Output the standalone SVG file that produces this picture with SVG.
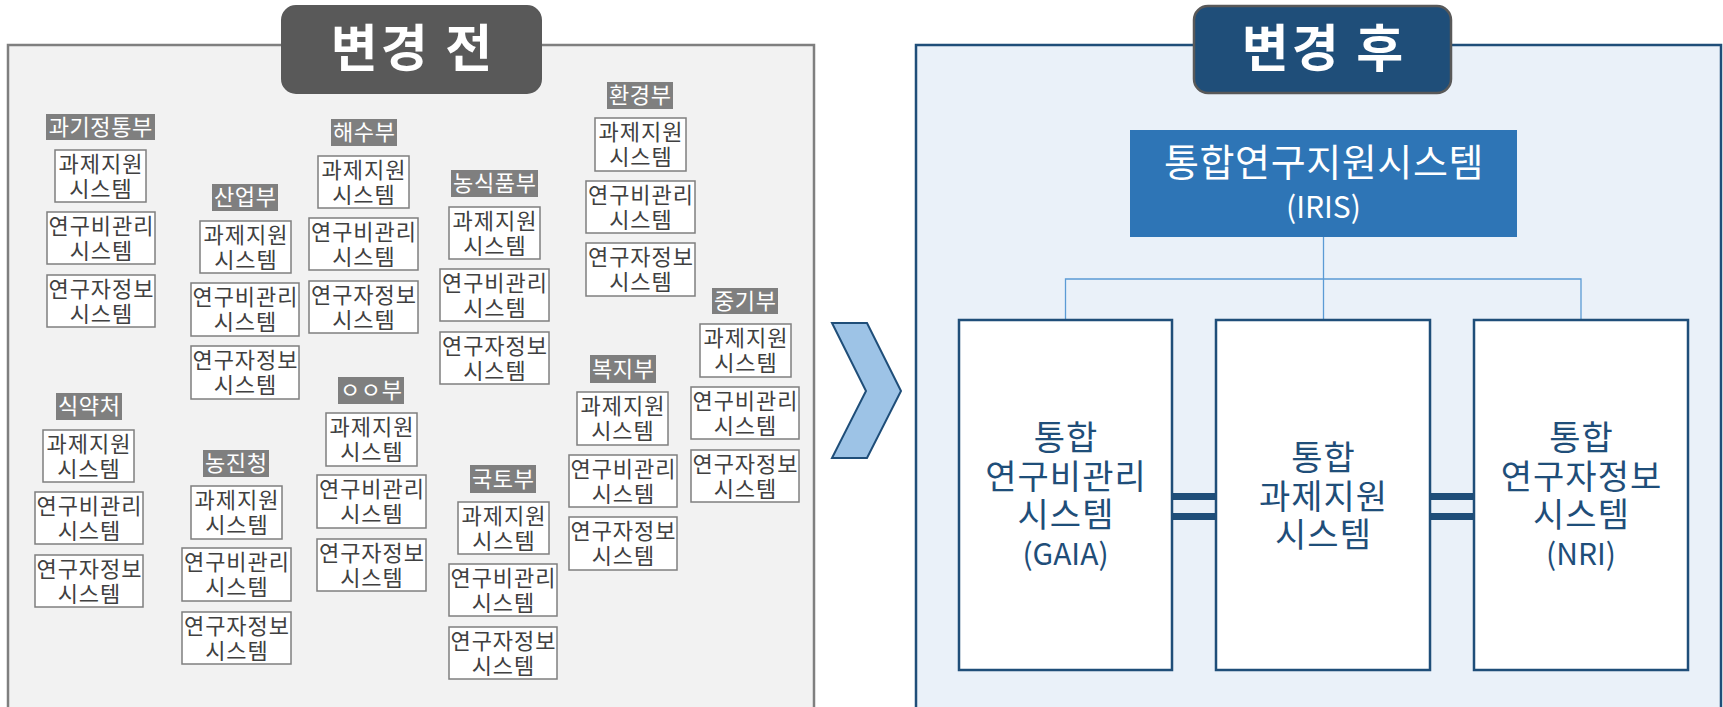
<svg xmlns="http://www.w3.org/2000/svg" width="1723" height="707" viewBox="0 0 1723 707">
<style>
.kr{font-family:"Noto Sans CJK KR","Noto Sans",sans-serif}
.lbl rect{fill:#7f7f7f}
.lbl text{fill:#ffffff;font-size:22px;letter-spacing:0.6px;text-anchor:middle}
.sys rect{fill:#ffffff;stroke:#7f7f7f;stroke-width:1.5}
.sys text{fill:#404040;font-size:22px;letter-spacing:1px;text-anchor:middle}
.big rect{fill:#ffffff;stroke:#1f4e79;stroke-width:2.5}
.big text{fill:#1f4e79;font-size:34px;letter-spacing:1px;text-anchor:middle}
.big tspan.en{font-size:30px;letter-spacing:0}
.badge text{fill:#ffffff;font-size:51px;font-weight:bold;letter-spacing:3px;text-anchor:middle}
</style>
<rect width="1723" height="707" fill="#ffffff"/>
<g id="panel-before">
<rect x="8" y="45" width="806" height="700" fill="#f2f2f2" stroke="#7f7f7f" stroke-width="2.5"/>
</g>
<g id="panel-after">
<rect x="916" y="45" width="805" height="700" fill="#eaf1f9" stroke="#1f4e79" stroke-width="2.5"/>
</g>
<g id="badge-before" class="badge kr">
<rect x="282" y="6" width="259" height="87" rx="14" fill="#595959" stroke="#595959" stroke-width="2"/>
<text x="413" y="67">변경 전</text>
</g>
<g id="badge-after" class="badge kr">
<rect x="1194" y="6" width="257" height="87" rx="14" fill="#1f4e79" stroke="#595959" stroke-width="2.5"/>
<text x="1324" y="67">변경 후</text>
</g>
<g id="chevron">
<polygon points="832,323 867,323 901,391 867,458 832,458 866,391" fill="#9dc3e6" stroke="#1f4e79" stroke-width="2"/>
</g>

<g id="g-msit" class="kr">
<g class="lbl"><rect x="46" y="114" width="109" height="26"/><text x="100.8" y="135">과기정통부</text></g>
<g class="sys"><rect x="55" y="150" width="91" height="52"/><text><tspan x="101" y="171.5">과제지원</tspan><tspan x="101" y="196.5">시스템</tspan></text></g>
<g class="sys"><rect x="47" y="212" width="108" height="52"/><text><tspan x="101.5" y="233.5">연구비관리</tspan><tspan x="101.5" y="258.5">시스템</tspan></text></g>
<g class="sys"><rect x="47" y="275" width="108" height="52"/><text><tspan x="101.5" y="296.5">연구자정보</tspan><tspan x="101.5" y="321.5">시스템</tspan></text></g>
</g>
<g id="g-motie" class="kr">
<g class="lbl"><rect x="212" y="184" width="66" height="27"/><text x="245.3" y="205">산업부</text></g>
<g class="sys"><rect x="200" y="221" width="91" height="52"/><text><tspan x="246" y="242.5">과제지원</tspan><tspan x="246" y="267.5">시스템</tspan></text></g>
<g class="sys"><rect x="191" y="283" width="108" height="53"/><text><tspan x="245.5" y="304.5">연구비관리</tspan><tspan x="245.5" y="329.5">시스템</tspan></text></g>
<g class="sys"><rect x="191" y="346" width="108" height="53"/><text><tspan x="245.5" y="367.5">연구자정보</tspan><tspan x="245.5" y="392.5">시스템</tspan></text></g>
</g>
<g id="g-mof" class="kr">
<g class="lbl"><rect x="331" y="119" width="66" height="27"/><text x="364.3" y="140">해수부</text></g>
<g class="sys"><rect x="318" y="156" width="91" height="52"/><text><tspan x="364" y="177.5">과제지원</tspan><tspan x="364" y="202.5">시스템</tspan></text></g>
<g class="sys"><rect x="309" y="218" width="109" height="52"/><text><tspan x="364" y="239.5">연구비관리</tspan><tspan x="364" y="264.5">시스템</tspan></text></g>
<g class="sys"><rect x="309" y="281" width="109" height="52"/><text><tspan x="364" y="302.5">연구자정보</tspan><tspan x="364" y="327.5">시스템</tspan></text></g>
</g>
<g id="g-mafra" class="kr">
<g class="lbl"><rect x="451" y="170" width="87" height="27"/><text x="494.8" y="191">농식품부</text></g>
<g class="sys"><rect x="449" y="207" width="91" height="52"/><text><tspan x="495" y="228.5">과제지원</tspan><tspan x="495" y="253.5">시스템</tspan></text></g>
<g class="sys"><rect x="440" y="269" width="109" height="52"/><text><tspan x="495" y="290.5">연구비관리</tspan><tspan x="495" y="315.5">시스템</tspan></text></g>
<g class="sys"><rect x="440" y="332" width="109" height="52"/><text><tspan x="495" y="353.5">연구자정보</tspan><tspan x="495" y="378.5">시스템</tspan></text></g>
</g>
<g id="g-me" class="kr">
<g class="lbl"><rect x="607" y="82" width="66" height="27"/><text x="640.3" y="103">환경부</text></g>
<g class="sys"><rect x="595" y="118" width="91" height="53"/><text><tspan x="641" y="139.5">과제지원</tspan><tspan x="641" y="164.5">시스템</tspan></text></g>
<g class="sys"><rect x="586" y="181" width="109" height="52"/><text><tspan x="641" y="202.5">연구비관리</tspan><tspan x="641" y="227.5">시스템</tspan></text></g>
<g class="sys"><rect x="586" y="243" width="109" height="53"/><text><tspan x="641" y="264.5">연구자정보</tspan><tspan x="641" y="289.5">시스템</tspan></text></g>
</g>
<g id="g-mss" class="kr">
<g class="lbl"><rect x="712" y="288" width="66" height="26"/><text x="745.3" y="308.5">중기부</text></g>
<g class="sys"><rect x="700" y="324" width="91" height="53"/><text><tspan x="746" y="345.5">과제지원</tspan><tspan x="746" y="370.5">시스템</tspan></text></g>
<g class="sys"><rect x="691" y="387" width="108" height="52"/><text><tspan x="745.5" y="408.5">연구비관리</tspan><tspan x="745.5" y="433.5">시스템</tspan></text></g>
<g class="sys"><rect x="691" y="450" width="108" height="52"/><text><tspan x="745.5" y="471.5">연구자정보</tspan><tspan x="745.5" y="496.5">시스템</tspan></text></g>
</g>
<g id="g-mfds" class="kr">
<g class="lbl"><rect x="56" y="393" width="66" height="27"/><text x="89.3" y="414">식약처</text></g>
<g class="sys"><rect x="43" y="430" width="91" height="52"/><text><tspan x="89" y="451.5">과제지원</tspan><tspan x="89" y="476.5">시스템</tspan></text></g>
<g class="sys"><rect x="35" y="492" width="108" height="52"/><text><tspan x="89.5" y="513.5">연구비관리</tspan><tspan x="89.5" y="538.5">시스템</tspan></text></g>
<g class="sys"><rect x="35" y="555" width="108" height="52"/><text><tspan x="89.5" y="576.5">연구자정보</tspan><tspan x="89.5" y="601.5">시스템</tspan></text></g>
</g>
<g id="g-rda" class="kr">
<g class="lbl"><rect x="203" y="450" width="66" height="27"/><text x="236.3" y="471">농진청</text></g>
<g class="sys"><rect x="191" y="486" width="91" height="53"/><text><tspan x="237" y="507.5">과제지원</tspan><tspan x="237" y="532.5">시스템</tspan></text></g>
<g class="sys"><rect x="182" y="548" width="109" height="53"/><text><tspan x="237" y="569.5">연구비관리</tspan><tspan x="237" y="594.5">시스템</tspan></text></g>
<g class="sys"><rect x="182" y="612" width="109" height="52"/><text><tspan x="237" y="633.5">연구자정보</tspan><tspan x="237" y="658.5">시스템</tspan></text></g>
</g>
<g id="g-oo" class="kr">
<g class="lbl"><rect x="338" y="377" width="66" height="27"/><text x="371.3" y="398">ㅇㅇ부</text></g>
<g class="sys"><rect x="326" y="413" width="91" height="53"/><text><tspan x="372" y="434.5">과제지원</tspan><tspan x="372" y="459.5">시스템</tspan></text></g>
<g class="sys"><rect x="317" y="475" width="109" height="53"/><text><tspan x="372" y="496.5">연구비관리</tspan><tspan x="372" y="521.5">시스템</tspan></text></g>
<g class="sys"><rect x="317" y="539" width="109" height="52"/><text><tspan x="372" y="560.5">연구자정보</tspan><tspan x="372" y="585.5">시스템</tspan></text></g>
</g>
<g id="g-molit" class="kr">
<g class="lbl"><rect x="470" y="465" width="66" height="28"/><text x="503.3" y="486.5">국토부</text></g>
<g class="sys"><rect x="458" y="502" width="91" height="52"/><text><tspan x="504" y="523.5">과제지원</tspan><tspan x="504" y="548.5">시스템</tspan></text></g>
<g class="sys"><rect x="449" y="564" width="108" height="52"/><text><tspan x="503.5" y="585.5">연구비관리</tspan><tspan x="503.5" y="610.5">시스템</tspan></text></g>
<g class="sys"><rect x="449" y="627" width="108" height="52"/><text><tspan x="503.5" y="648.5">연구자정보</tspan><tspan x="503.5" y="673.5">시스템</tspan></text></g>
</g>
<g id="g-mohw" class="kr">
<g class="lbl"><rect x="590" y="355" width="66" height="28"/><text x="623.3" y="376.5">복지부</text></g>
<g class="sys"><rect x="577" y="392" width="91" height="53"/><text><tspan x="623" y="413.5">과제지원</tspan><tspan x="623" y="438.5">시스템</tspan></text></g>
<g class="sys"><rect x="569" y="455" width="108" height="52"/><text><tspan x="623.5" y="476.5">연구비관리</tspan><tspan x="623.5" y="501.5">시스템</tspan></text></g>
<g class="sys"><rect x="569" y="517" width="108" height="53"/><text><tspan x="623.5" y="538.5">연구자정보</tspan><tspan x="623.5" y="563.5">시스템</tspan></text></g>
</g>

<g id="connectors" fill="none">
<line x1="1323.5" y1="237" x2="1323.5" y2="320" stroke="#5b9bd5" stroke-width="1.3"/>
<polyline points="1065.5,320 1065.5,279 1581,279 1581,320" stroke="#5b9bd5" stroke-width="1.3"/>
<line x1="1172" y1="496.5" x2="1216" y2="496.5" stroke="#1f4e79" stroke-width="7"/>
<line x1="1172" y1="516.5" x2="1216" y2="516.5" stroke="#1f4e79" stroke-width="7"/>
<line x1="1430" y1="496.5" x2="1474" y2="496.5" stroke="#1f4e79" stroke-width="7"/>
<line x1="1430" y1="516.5" x2="1474" y2="516.5" stroke="#1f4e79" stroke-width="7"/>
</g>
<g id="iris" class="kr">
<rect x="1130" y="130" width="387" height="107" fill="#2e75b6"/>
<text fill="#ffffff" text-anchor="middle"><tspan x="1324" y="176" font-size="38" letter-spacing="0.6">통합연구지원시스템</tspan><tspan x="1323.5" y="218" font-size="30">(IRIS)</tspan></text>
</g>
<g id="gaia" class="big kr">
<rect x="959" y="320" width="213" height="350"/>
<text><tspan x="1066" y="450">통합</tspan><tspan x="1066" y="489">연구비관리</tspan><tspan x="1066" y="527">시스템</tspan><tspan class="en" x="1065.5" y="565">(GAIA)</tspan></text>
</g>
<g id="ntis-task" class="big kr">
<rect x="1216" y="320" width="214" height="350"/>
<text><tspan x="1323.5" y="470">통합</tspan><tspan x="1323.5" y="509">과제지원</tspan><tspan x="1323.5" y="547">시스템</tspan></text>
</g>
<g id="nri" class="big kr">
<rect x="1474" y="320" width="214" height="350"/>
<text><tspan x="1581.5" y="450">통합</tspan><tspan x="1581.5" y="489">연구자정보</tspan><tspan x="1581.5" y="527">시스템</tspan><tspan class="en" x="1581" y="565">(NRI)</tspan></text>
</g>
</svg>
